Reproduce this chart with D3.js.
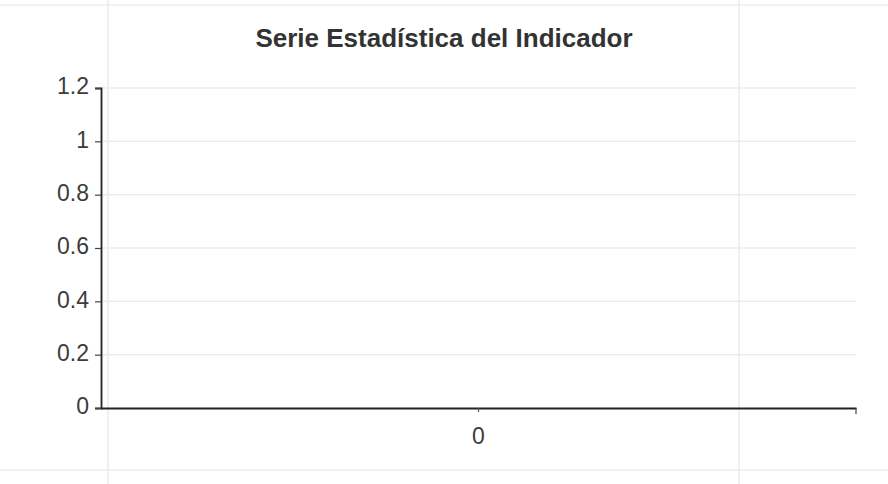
<!DOCTYPE html>
<html>
<head>
<meta charset="utf-8">
<script src="https://cdn.jsdelivr.net/npm/d3@7"></script>
<style>
  body { margin: 0; background: #fff; }
  svg { display: block; font-family: "Liberation Sans", Arial, sans-serif; }
</style>
</head>
<body>
<div id="chart"></div>
<script>
// data
const categories = ['0']
const values = [0]
const yTicks = [0, 0.2, 0.4, 0.6, 0.8, 1, 1.2]
const title = 'Serie Estadística del Indicador'

const width = 888
const height = 484
const plot = {left: 101, right: 856, top: 88, bottom: 408}

const svg = d3.select('#chart').append('svg')
  .attr('width', width)
  .attr('height', height)

// faint scan/page lines around the chart
const frame = svg.append('g').attr('stroke', '#e6e6e6').attr('stroke-width', 1.2)
frame.append('line').attr('x1', 0).attr('x2', width).attr('y1', 5).attr('y2', 5)
frame.append('line').attr('x1', 0).attr('x2', width).attr('y1', 470).attr('y2', 470)
frame.append('line').attr('x1', 108).attr('x2', 108).attr('y1', 0).attr('y2', height)
frame.append('line').attr('x1', 739).attr('x2', 739).attr('y1', 0).attr('y2', height)

const x = d3.scaleBand()
  .domain(categories)
  .range([plot.left, plot.right])

const y = d3.scaleLinear()
  .domain([0, 1.2])
  .range([plot.bottom, plot.top])

// gridlines
svg.append('g')
  .selectAll('line')
  .data(yTicks.filter(d => d > 0))
  .enter().append('line')
    .attr('x1', plot.left)
    .attr('x2', plot.right)
    .attr('y1', d => y(d))
    .attr('y2', d => y(d))
    .attr('stroke', '#ececec')
    .attr('stroke-width', 1.5)

// y axis
const yAxis = svg.append('g')
  .attr('transform', `translate(${plot.left},0)`)
  .call(d3.axisLeft(y).tickValues(yTicks).tickSize(6).tickPadding(6).tickFormat(d => String(d)))
yAxis.select('.domain').attr('stroke', '#222').attr('stroke-width', 1.8)
yAxis.selectAll('.tick line').attr('stroke', '#444').attr('stroke-width', 1.2)
yAxis.selectAll('.tick text')
  .attr('fill', '#3c3c3c')
  .style('font-size', '23px')
  .attr('dy', '0.25em')

// x axis
const xAxis = svg.append('g')
  .attr('transform', `translate(0,${plot.bottom})`)
  .call(d3.axisBottom(x).tickSize(0).tickPadding(20))
xAxis.select('.domain').attr('stroke', '#222').attr('stroke-width', 2.2)
xAxis.selectAll('.tick text')
  .attr('fill', '#3c3c3c')
  .style('font-size', '23px')

// end tick
svg.append('line')
  .attr('x1', plot.right).attr('x2', plot.right)
  .attr('y1', plot.bottom).attr('y2', plot.bottom + 6)
  .attr('stroke', '#444').attr('stroke-width', 1.2)

// series point (value 0)
svg.append('g')
  .selectAll('line')
  .data(values)
  .enter().append('line')
    .attr('x1', (d, i) => x(categories[i]) + x.bandwidth() / 2)
    .attr('x2', (d, i) => x(categories[i]) + x.bandwidth() / 2)
    .attr('y1', d => y(d))
    .attr('y2', d => y(d) + 4)
    .attr('stroke', '#555')
    .attr('stroke-width', 1.2)

// title
svg.append('text')
  .attr('x', 444)
  .attr('y', 47)
  .attr('text-anchor', 'middle')
  .attr('fill', '#333')
  .style('font-size', '26px')
  .style('font-weight', 'bold')
  .text(title)
</script>
</body>
</html>
